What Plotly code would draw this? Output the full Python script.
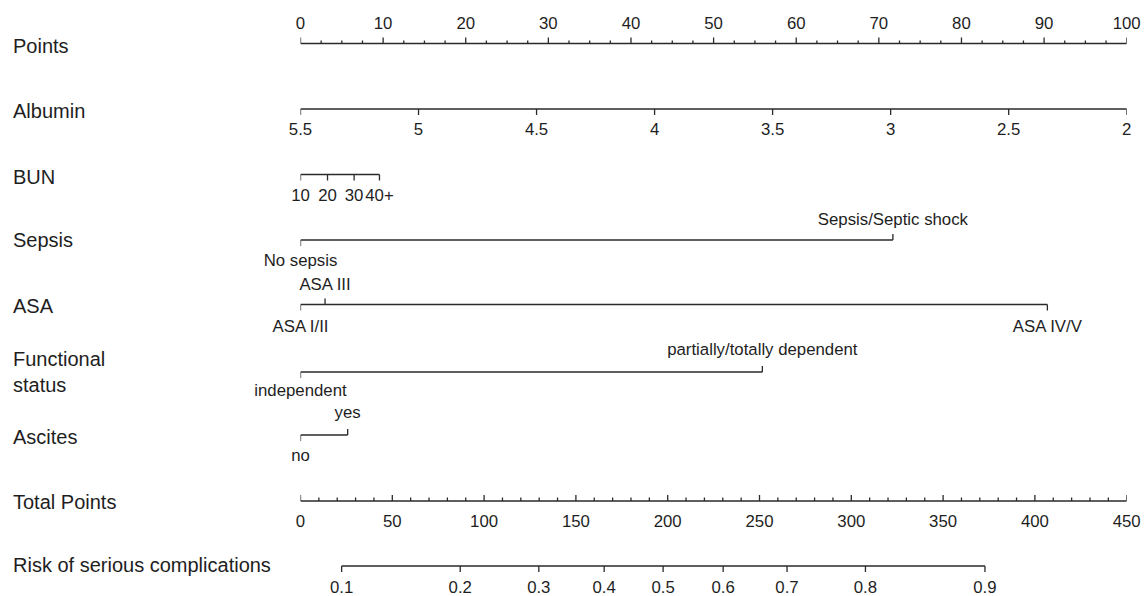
import plotly.graph_objects as go

# ---------------- data ----------------
row_names = ["Points", "Albumin", "BUN", "Sepsis", "ASA", "Functional<br>status",
             "Ascites", "Total Points", "Risk of serious complications"]

points_major = [0, 10, 20, 30, 40, 50, 60, 70, 80, 90, 100]
points_labels = ["0", "10", "20", "30", "40", "50", "60", "70", "80", "90", "100"]
points_minor_step = 2.5

albumin_vals = [5.5, 5, 4.5, 4, 3.5, 3, 2.5, 2]
albumin_labels = ["5.5", "5", "4.5", "4", "3.5", "3", "2.5", "2"]

bun_labels = ["10", "20", "30", "40+"]
bun_points = [0, 3.27, 6.49, 9.56]

sepsis_labels = ["No sepsis", "Sepsis/Septic shock"]
sepsis_points = [0, 71.7]

asa_labels = ["ASA I/II", "ASA III", "ASA IV/V"]
asa_points = [0, 2.97, 90.4]

func_labels = ["independent", "partially/totally dependent"]
func_points = [0, 55.9]

ascites_labels = ["no", "yes"]
ascites_points = [0, 5.71]

total_major = [0, 50, 100, 150, 200, 250, 300, 350, 400, 450]
total_labels = ["0", "50", "100", "150", "200", "250", "300", "350", "400", "450"]
total_minor_step = 10

risk_labels = ["0.1", "0.2", "0.3", "0.4", "0.5", "0.6", "0.7", "0.8", "0.9"]
risk_total = [22.4, 87.0, 129.8, 165.4, 197.5, 230.2, 265.0, 307.7, 372.8]

# ---------------- layout / style ----------------
W, H = 1146, 596
X0_PX, X1_PX = 300.5, 1126.7
FONT = "Arial, 'Liberation Sans', sans-serif"
LINE_COL = "#2a2a2a"
TEXT_COL = "#1e1e1e"
LW = 1.3
TICK_FS = 16.8
NAME_FS = 20

y_line = {"points": 43.5, "albumin": 109, "bun": 174.5, "sepsis": 240,
          "asa": 304.5, "func": 372, "ascites": 435, "total": 501, "risk": 566}
y_lab_up = {"points": 25, "sepsis": 221, "asa": 286, "func": 351, "ascites": 414,
            "total": 523}
y_lab_dn = {"albumin": 131, "bun": 197, "sepsis": 262, "asa": 328, "func": 392,
            "ascites": 457, "risk": 589}
name_y = [46, 111, 177, 240, 306, 372, 437, 502, 565]

fig = go.Figure()


def line(xs, ys, xaxis="x"):
    fig.add_trace(go.Scatter(x=xs, y=ys, mode="lines", xaxis=xaxis, yaxis="y",
                             line=dict(color=LINE_COL, width=LW), hoverinfo="skip",
                             cliponaxis=False))


def ticks(xs, y0, y1, xaxis="x"):
    tx, ty = [], []
    for v in xs:
        tx += [v, v, None]
        ty += [y0, y1, None]
    line(tx, ty, xaxis)


def texts(xs, ys, labels, xaxis="x"):
    fig.add_trace(go.Scatter(x=xs, y=ys, text=labels, mode="text", xaxis=xaxis, yaxis="y",
                             textposition="middle center", cliponaxis=False,
                             textfont=dict(family=FONT, size=TICK_FS, color=TEXT_COL),
                             hoverinfo="skip"))


# Points axis (ticks up, labels above)
yl = y_line["points"]
line([points_major[0], points_major[-1]], [yl, yl])
n_minor = int(round((points_major[-1] - points_major[0]) / points_minor_step))
minor = [points_major[0] + i * points_minor_step for i in range(n_minor + 1)]
ticks([m for m in minor if m not in points_major], yl, yl - 3)
ticks(points_major, yl, yl - 6)
texts(points_major, [y_lab_up["points"]] * len(points_major), points_labels)

# Albumin (own scale, reversed)
yl = y_line["albumin"]
line([albumin_vals[0], albumin_vals[-1]], [yl, yl], "x2")
ticks(albumin_vals, yl, yl + 6, "x2")
texts(albumin_vals, [y_lab_dn["albumin"]] * len(albumin_vals), albumin_labels, "x2")

# BUN
yl = y_line["bun"]
line([bun_points[0], bun_points[-1]], [yl, yl])
ticks(bun_points, yl, yl + 6)
texts(bun_points, [y_lab_dn["bun"]] * len(bun_points), bun_labels)


# Categorical rows: labels alternate below / above, ticks point towards label
def cat_row(key, pts, labels):
    yl = y_line[key]
    line([min(pts), max(pts)], [yl, yl])
    for i, (p, lab) in enumerate(zip(pts, labels)):
        up = (i % 2 == 1)
        ticks([p], yl, yl - 6 if up else yl + 6)
        texts([p], [y_lab_up[key] if up else y_lab_dn[key]], [lab])


cat_row("sepsis", sepsis_points, sepsis_labels)
cat_row("asa", asa_points, asa_labels)
cat_row("func", func_points, func_labels)
cat_row("ascites", ascites_points, ascites_labels)

# Total points (ticks up, labels below)
yl = y_line["total"]
line([total_major[0], total_major[-1]], [yl, yl], "x3")
n_minor = int(round((total_major[-1] - total_major[0]) / total_minor_step))
tminor = [total_major[0] + i * total_minor_step for i in range(n_minor + 1)]
ticks([m for m in tminor if m not in total_major], yl, yl - 3.5, "x3")
ticks(total_major, yl, yl - 6, "x3")
texts(total_major, [y_lab_up["total"]] * len(total_major), total_labels, "x3")

# Risk axis (positions on total-points scale)
yl = y_line["risk"]
line([risk_total[0], risk_total[-1]], [yl, yl], "x3")
ticks(risk_total, yl, yl + 6, "x3")
texts(risk_total, [y_lab_dn["risk"]] * len(risk_total), risk_labels, "x3")

# Row names
annotations = []
for name, yv in zip(row_names, name_y):
    annotations.append(dict(x=10.5 / W, xref="paper", xanchor="left", y=yv, yref="y",
                            yanchor="middle", text=name, showarrow=False, align="left",
                            font=dict(family=FONT, size=NAME_FS, color=TEXT_COL)))

dom = [X0_PX / W, X1_PX / W]
fig.update_layout(
    width=W, height=H, margin=dict(l=0, r=0, t=0, b=0),
    paper_bgcolor="white", plot_bgcolor="white", showlegend=False,
    xaxis=dict(domain=dom, range=[0, 100], visible=False, fixedrange=True),
    xaxis2=dict(overlaying="x", anchor="y", range=[albumin_vals[0], albumin_vals[-1]],
                visible=False, fixedrange=True),
    xaxis3=dict(overlaying="x", anchor="y", range=[total_major[0], total_major[-1]],
                visible=False, fixedrange=True),
    yaxis=dict(domain=[0, 1], range=[H, 0], visible=False, fixedrange=True),
    annotations=annotations,
)

fig.write_html("out.html", config={"displayModeBar": False, "staticPlot": True},
               post_script="document.body.style.margin='0';document.body.style.overflow='hidden';")
